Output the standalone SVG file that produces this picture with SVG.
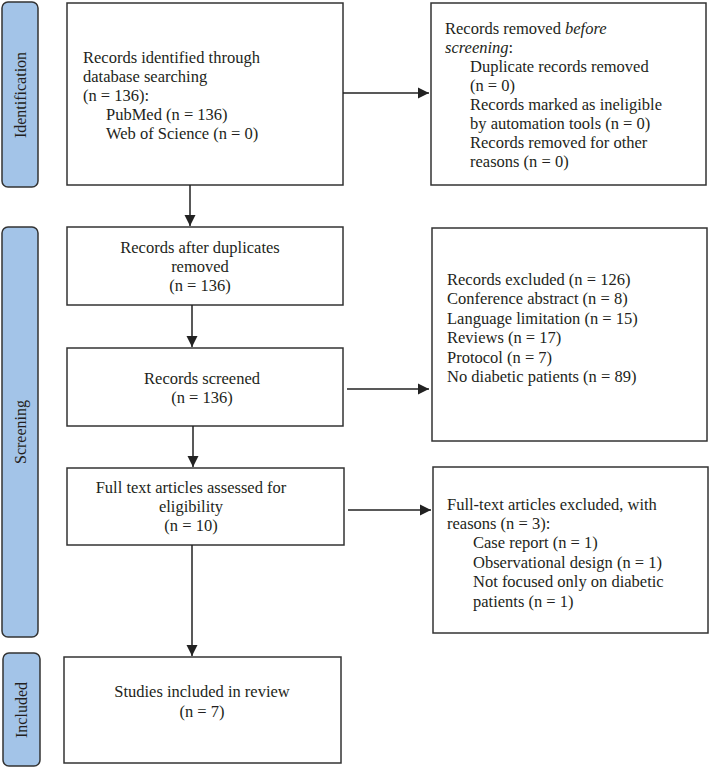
<svg xmlns="http://www.w3.org/2000/svg" width="710" height="767" viewBox="0 0 710 767">
<style>
.box{fill:#fff;stroke:#333;stroke-width:1.5}
.bar{fill:#a3c4e8;stroke:#333;stroke-width:1.5}
text{font-family:"Liberation Serif","Times New Roman",serif;font-size:16.5px;fill:#231f20}
.lbl{font-size:16px}
.c{text-anchor:middle}
.con{stroke:#222;stroke-width:1.5;fill:none;marker-end:url(#ah)}
</style>
<defs>
<marker id="ah" markerWidth="12" markerHeight="12" refX="11" refY="6" orient="auto" markerUnits="userSpaceOnUse">
<path d="M0,0.5 L11,6 L0,11.5 Z" fill="#222"/>
</marker>
</defs>
<g id="phase-identification">
<rect class="bar" x="2" y="2" width="36" height="185" rx="6"/>
<text class="c lbl" transform="translate(26,95) rotate(-90)">Identification</text>
</g>
<g id="phase-screening">
<rect class="bar" x="2" y="227" width="36" height="410" rx="6"/>
<text class="c lbl" transform="translate(26,432) rotate(-90)">Screening</text>
</g>
<g id="phase-included">
<rect class="bar" x="3" y="653" width="37" height="113" rx="6"/>
<text class="c lbl" transform="translate(27,710) rotate(-90)">Included</text>
</g>
<g id="n-identified">
<rect class="box" x="67" y="3" width="276" height="182"/>
<text x="83" y="63">Records identified through</text>
<text x="83" y="82">database searching</text>
<text x="83" y="101">(n = 136):</text>
<text x="106" y="120">PubMed (n = 136)</text>
<text x="106" y="139">Web of Science (n = 0)</text>
</g>
<g id="n-removed-before">
<rect class="box" x="431" y="3" width="275" height="182"/>
<text x="445" y="34">Records removed <tspan font-style="italic">before</tspan></text>
<text x="445" y="53"><tspan font-style="italic">screening</tspan>:</text>
<text x="470" y="72">Duplicate records removed</text>
<text x="470" y="91">(n = 0)</text>
<text x="470" y="110">Records marked as ineligible</text>
<text x="470" y="129">by automation tools (n = 0)</text>
<text x="470" y="148">Records removed for other</text>
<text x="470" y="167">reasons (n = 0)</text>
</g>
<g id="n-after-duplicates">
<rect class="box" x="67" y="227" width="276" height="78"/>
<text class="c" x="200" y="253">Records after duplicates</text>
<text class="c" x="200" y="272">removed</text>
<text class="c" x="200" y="291">(n = 136)</text>
</g>
<g id="n-screened">
<rect class="box" x="67" y="348" width="276" height="78"/>
<text class="c" x="202" y="384">Records screened</text>
<text class="c" x="202" y="403">(n = 136)</text>
</g>
<g id="n-excluded">
<rect class="box" x="432" y="228" width="275" height="213"/>
<text x="447" y="285">Records excluded (n = 126)</text>
<text x="447" y="304">Conference abstract (n = 8)</text>
<text x="447" y="324">Language limitation (n = 15)</text>
<text x="447" y="343">Reviews (n = 17)</text>
<text x="447" y="363">Protocol (n = 7)</text>
<text x="447" y="382">No diabetic patients (n = 89)</text>
</g>
<g id="n-fulltext">
<rect class="box" x="67" y="468" width="277" height="77"/>
<text class="c" x="191" y="493">Full text articles assessed for</text>
<text class="c" x="191" y="512">eligibility</text>
<text class="c" x="191" y="531">(n = 10)</text>
</g>
<g id="n-fulltext-excluded">
<rect class="box" x="433" y="467" width="275" height="166"/>
<text x="447" y="510">Full-text articles excluded, with</text>
<text x="447" y="529">reasons (n = 3):</text>
<text x="473" y="548">Case report (n = 1)</text>
<text x="473" y="568">Observational design (n = 1)</text>
<text x="473" y="587">Not focused only on diabetic</text>
<text x="473" y="607">patients (n = 1)</text>
</g>
<g id="n-included">
<rect class="box" x="64" y="657" width="277" height="106"/>
<text class="c" x="202" y="697">Studies included in review</text>
<text class="c" x="202" y="717">(n = 7)</text>
</g>
<g id="connectors">
<path class="con" d="M343,93 H429"/>
<path class="con" d="M190,185 V226"/>
<path class="con" d="M192,305 V347"/>
<path class="con" d="M347,389 H429"/>
<path class="con" d="M193,426 V467"/>
<path class="con" d="M348,510 H431"/>
<path class="con" d="M192,545 V656"/>
</g>
</svg>
